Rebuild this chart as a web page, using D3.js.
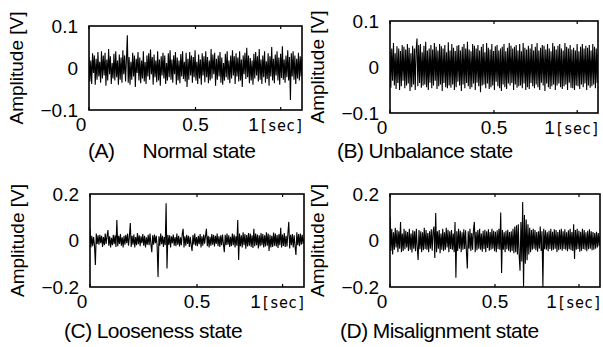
<!DOCTYPE html>
<html>
<head>
<meta charset="utf-8">
<script src="https://cdn.jsdelivr.net/npm/d3@7"></script>
<style>
  body { margin: 0; background: #fff; }
  text { font-family: "Liberation Sans", Arial, sans-serif; fill: #000; }
</style>
</head>
<body>
<svg id="chart" width="603" height="347"></svg>
<script>
// signal values [V] (about one sample per 0.9 px)
const normalState = [
  0.025,-0.032,0.018,-0.038,0.035,-0.012,0.03,-0.04,0.022,-0.028,
  0.038,-0.02,0.015,-0.035,0.04,-0.025,0.03,-0.018,0.036,-0.042,
  0.02,-0.03,0.045,-0.015,0.028,-0.038,0.012,-0.025,0.034,-0.03,
  0.04,-0.022,0.018,-0.04,0.032,-0.028,0.025,-0.035,0.042,-0.015,
  0.03,-0.032,0.02,0.078,-0.035,0.026,-0.04,0.015,-0.028,0.036,
  -0.02,0.03,-0.045,0.022,-0.012,0.038,-0.03,0.025,-0.036,0.018,
  -0.025,0.04,-0.032,0.014,-0.038,0.03,-0.02,0.035,-0.028,0.044,
  -0.015,0.026,-0.04,0.032,-0.022,0.018,-0.034,0.04,-0.03,0.02,
  -0.042,0.028,-0.018,0.036,-0.025,0.03,-0.038,0.012,-0.03,0.035,
  -0.022,0.042,-0.028,0.02,-0.035,0.03,-0.015,0.038,-0.04,0.025,
  -0.03,0.018,-0.036,0.033,-0.02,0.04,-0.026,0.015,-0.032,0.036,
  -0.045,0.022,-0.028,0.038,-0.018,0.03,-0.035,0.026,-0.022,0.042,
  -0.03,0.015,-0.038,0.032,-0.025,0.02,-0.04,0.035,-0.018,0.028,
  -0.034,0.04,-0.022,0.026,-0.036,0.018,-0.03,0.045,-0.025,0.032,
  -0.015,0.036,-0.042,0.022,-0.028,0.03,-0.02,0.038,-0.035,0.025,
  -0.04,0.012,-0.03,0.034,-0.022,0.04,-0.028,0.018,-0.036,0.03,
  -0.025,0.042,-0.018,0.028,-0.038,0.035,-0.02,0.025,-0.032,0.04,
  -0.03,0.02,-0.045,0.03,-0.015,0.036,-0.026,0.048,-0.022,0.03,
  -0.036,0.024,-0.03,0.018,-0.04,0.034,-0.025,0.038,-0.018,0.028,
  -0.032,0.045,-0.028,0.02,-0.038,0.03,-0.022,0.04,-0.035,0.016,
  -0.026,0.035,-0.042,0.028,-0.02,0.05,-0.03,0.022,-0.036,0.032,
  -0.018,0.04,-0.03,0.025,-0.04,0.034,-0.024,0.052,-0.028,0.02,
  -0.035,0.03,-0.022,0.042,-0.03,0.026,-0.076,0.035,-0.02,0.04,
  -0.028,0.03,-0.038,0.022,-0.025,0.036,-0.03,0.028,-0.02,0.025
];
const unbalanceState = [
  0.035,-0.045,0.04,-0.03,0.052,-0.04,0.03,-0.048,0.045,-0.035,
  0.04,-0.05,0.035,-0.042,0.048,-0.03,0.044,-0.046,0.038,-0.04,
  0.05,-0.036,0.042,-0.052,0.03,-0.044,0.046,-0.038,0.04,-0.05,
  0.036,0.062,-0.042,0.048,-0.035,0.05,-0.045,0.032,-0.04,0.046,
  -0.038,0.055,-0.044,0.036,-0.05,0.04,-0.034,0.048,-0.046,0.038,
  -0.04,0.052,-0.03,0.044,-0.048,0.036,-0.042,0.05,-0.038,0.045,
  -0.052,0.04,-0.035,0.048,-0.044,0.032,-0.046,0.054,-0.04,0.036,
  -0.045,0.05,-0.038,0.042,-0.05,0.035,-0.044,0.046,-0.032,0.048,
  -0.04,0.036,-0.052,0.044,-0.038,0.05,-0.046,0.04,-0.035,0.055,
  -0.042,0.038,-0.048,0.034,-0.044,0.05,-0.036,0.046,-0.05,0.04,
  -0.034,0.048,-0.042,0.036,-0.055,0.044,-0.04,0.05,-0.038,0.032,
  -0.046,0.052,-0.036,0.042,-0.048,0.038,-0.044,0.05,-0.04,0.035,
  -0.05,0.045,-0.032,0.048,-0.042,0.036,-0.046,0.04,-0.052,0.044,
  -0.038,0.05,-0.044,0.034,-0.048,0.042,-0.036,0.052,-0.04,0.046,
  -0.035,0.04,-0.05,0.044,-0.038,0.048,-0.045,0.036,-0.042,0.05,
  -0.04,0.034,-0.046,0.052,-0.036,0.042,-0.05,0.038,-0.044,0.046,
  -0.048,0.04,-0.035,0.05,-0.042,0.036,-0.046,0.044,-0.038,0.052,
  -0.044,0.036,-0.05,0.042,-0.034,0.048,-0.04,0.046,-0.052,0.038,
  -0.036,0.05,-0.044,0.04,-0.048,0.034,-0.042,0.052,-0.038,0.045,
  -0.05,0.038,-0.04,0.046,-0.036,0.05,-0.044,0.04,-0.048,0.036,
  -0.042,0.052,-0.038,0.044,-0.05,0.04,-0.034,0.048,-0.045,0.038,
  -0.046,0.042,-0.05,0.036,-0.04,0.05,-0.042,0.034,-0.048,0.044,
  -0.038,0.05,-0.044,0.04,-0.036,0.046,-0.05,0.042,-0.04,0.048,
  -0.045,0.036,-0.042,0.05,-0.038,0.044,-0.046,0.04,-0.035,0.03
];
const loosenessState = [
  0.05,-0.03,0.02,-0.025,0.015,-0.02,-0.105,0.03,-0.015,0.022,
  -0.018,0.025,-0.012,0.02,-0.028,0.015,-0.02,0.03,-0.015,0.018,
  0.045,-0.022,0.018,-0.03,0.012,-0.02,0.025,-0.016,0.022,-0.028,
  0.088,-0.025,0.02,-0.015,0.028,-0.022,0.014,-0.03,0.02,-0.018,
  0.025,-0.012,0.03,-0.022,0.016,0.075,-0.028,0.02,-0.018,0.026,
  -0.03,0.015,-0.02,0.032,-0.016,0.022,-0.025,0.018,-0.012,0.028,
  -0.022,0.02,-0.03,0.014,-0.018,0.025,-0.02,0.03,-0.015,-0.05,
  0.022,-0.018,0.026,-0.012,0.02,-0.025,-0.157,0.018,-0.022,0.03,
  -0.016,0.02,-0.028,0.015,-0.02,0.16,-0.12,0.025,-0.018,0.022,
  -0.03,0.018,-0.012,0.026,-0.022,0.015,-0.025,0.03,-0.018,0.02,
  -0.026,0.014,-0.02,0.028,0.05,-0.03,0.018,-0.022,0.025,-0.015,
  0.02,-0.028,0.016,-0.02,-0.045,0.024,-0.018,0.03,-0.022,0.015,
  -0.025,0.02,-0.016,0.028,-0.03,0.018,-0.022,0.026,-0.014,0.02,
  0.05,-0.025,0.02,-0.03,0.016,-0.022,0.028,-0.018,0.024,-0.026,
  0.02,-0.015,0.03,-0.024,0.018,-0.028,0.022,-0.02,0.026,-0.016,
  -0.05,0.025,-0.02,0.03,-0.018,0.022,-0.028,0.016,-0.024,0.03,
  -0.02,0.026,-0.03,0.018,-0.022,0.088,-0.084,0.03,-0.025,0.022,
  -0.03,0.035,-0.02,0.028,-0.035,0.024,-0.026,0.032,-0.022,0.03,
  -0.028,0.022,-0.032,0.05,-0.025,0.03,-0.02,0.026,-0.034,0.022,
  -0.025,0.032,-0.02,0.028,-0.03,0.022,-0.026,0.035,-0.022,0.03,
  -0.045,0.025,-0.03,0.02,-0.028,0.034,-0.022,0.03,-0.026,0.024,
  -0.032,0.028,-0.02,0.055,-0.03,0.026,-0.024,0.032,-0.028,0.02,
  -0.026,0.03,0.08,-0.034,0.025,-0.02,0.028,-0.03,0.022,-0.025,
  -0.062,0.035,-0.02,0.028,-0.025,0.03,-0.018,0.024,-0.015,0.01
];
const misalignmentState = [
  0.1,-0.045,0.05,-0.06,0.035,-0.04,0.055,-0.03,0.045,-0.05,
  0.04,-0.035,0.08,-0.05,0.03,-0.045,0.05,-0.038,0.042,-0.03,
  0.036,-0.045,0.05,-0.04,0.03,-0.052,0.044,-0.035,0.04,-0.046,
  0.05,-0.03,-0.084,0.045,-0.038,0.04,-0.05,0.035,-0.042,0.055,
  -0.036,0.045,-0.04,0.032,-0.05,0.04,-0.035,0.048,-0.044,0.038,
  0.06,-0.075,0.118,-0.05,0.04,-0.035,0.045,-0.055,0.03,-0.04,
  0.05,-0.045,0.035,-0.04,0.055,-0.03,0.046,-0.05,0.04,-0.036,
  0.045,-0.04,0.03,-0.05,0.08,-0.16,0.04,-0.045,0.05,-0.035,
  0.042,-0.05,0.035,-0.04,0.048,-0.036,0.044,-0.05,-0.12,0.04,
  -0.035,0.05,-0.045,0.032,-0.04,0.046,0.08,-0.05,0.038,-0.042,
  0.045,-0.035,0.05,-0.04,0.03,-0.048,0.042,-0.036,0.046,-0.05,
  0.04,-0.032,0.048,-0.044,0.036,-0.04,0.05,-0.035,0.042,-0.046,
  0.038,-0.05,0.044,-0.036,0.05,-0.04,0.12,-0.14,0.045,-0.04,
  0.035,-0.05,0.042,-0.038,0.046,-0.044,0.036,-0.05,0.04,-0.045,
  0.05,-0.055,0.06,-0.05,0.065,-0.06,0.07,-0.065,-0.13,0.08,
  -0.09,0.166,-0.2,0.11,-0.1,0.09,-0.085,0.07,-0.06,0.055,
  -0.05,0.045,-0.04,0.05,-0.035,0.045,-0.042,0.036,-0.048,0.04,
  -0.035,0.06,-0.045,0.04,-0.2,0.05,-0.038,0.044,-0.04,0.035,
  -0.046,0.042,-0.036,0.05,-0.044,0.038,-0.04,0.048,-0.035,0.045,
  -0.05,0.036,-0.042,0.046,-0.038,0.05,-0.044,0.04,-0.036,0.048,
  -0.04,0.035,-0.046,0.044,-0.038,0.05,-0.042,0.036,-0.045,0.07,
  -0.08,0.045,-0.04,0.05,-0.036,0.042,-0.048,0.038,-0.044,0.05,
  -0.036,0.045,-0.04,0.035,-0.046,0.042,-0.038,0.048,-0.035,0.04,
  -0.042,0.036,-0.04,0.032,-0.035,0.038,-0.03,0.032,-0.025,0.02
];

const xTicks = [0, 0.5, 0.9];
const xTickLabels = ["0", "0.5", "1"];
const yLimits = [0.1, 0.1, 0.2, 0.2];
const captionTags = ["(A)", "(B)", "(C)", "(D)"];
const captionTexts = ["Normal state", "Unbalance state", "Looseness state", "Misalignment state"];
const yLabel = "Amplitude [V]";

// layout of each axes box (pixels)
const boxes = [
  {l: 89,  r: 302, t: 26,  b: 110, capX: 88,  capY: 158, gap: 28},
  {l: 390, r: 598, t: 21,  b: 113, capX: 337, capY: 158, gap: 5},
  {l: 90,  r: 304, t: 194, b: 287, capX: 64,  capY: 338, gap: 5},
  {l: 390, r: 600, t: 194, b: 287, capX: 340, capY: 338, gap: 5}
];
const series = [normalState, unbalanceState, loosenessState, misalignmentState];

const svg = d3.select("#chart");

boxes.forEach((bx, k) => {
  const vals = series[k];
  const lim = yLimits[k];
  const x = d3.scaleLinear().domain([0, 1]).range([bx.l, bx.r]);
  const y = d3.scaleLinear().domain([-lim, lim]).range([bx.b, bx.t]);
  const g = svg.append("g");

  const line = d3.line()
    .x((d, i) => x(i / (vals.length - 1)))
    .y(d => y(d));

  const clipId = "clip" + k;
  svg.append("clipPath").attr("id", clipId)
    .append("rect").attr("x", bx.l).attr("y", bx.t)
    .attr("width", bx.r - bx.l).attr("height", bx.b - bx.t);

  g.append("path")
    .datum(vals)
    .attr("clip-path", "url(#" + clipId + ")")
    .attr("fill", "none")
    .attr("stroke", "#000")
    .attr("stroke-width", 1.1)
    .attr("d", line);

  // inner ticks (top and bottom)
  const tk = g.append("g").attr("stroke", "#000").attr("stroke-width", 1.2);
  xTicks.forEach(v => {
    tk.append("line").attr("x1", x(v)).attr("x2", x(v)).attr("y1", bx.b).attr("y2", bx.b - 3);
    tk.append("line").attr("x1", x(v)).attr("x2", x(v)).attr("y1", bx.t).attr("y2", bx.t + 3);
  });

  g.append("rect")
    .attr("x", bx.l).attr("y", bx.t)
    .attr("width", bx.r - bx.l).attr("height", bx.b - bx.t)
    .attr("fill", "none").attr("stroke", "#000").attr("stroke-width", 1.6);

  // y tick labels
  [lim, 0, -lim].forEach(v => {
    g.append("text")
      .attr("x", bx.l - 11).attr("y", y(v)).attr("dy", "0.36em")
      .attr("text-anchor", "end").attr("font-size", 19)
      .text(v === 0 ? "0" : (v < 0 ? "\u2212" + Math.abs(v) : String(v)));
  });

  // x tick labels
  g.append("text").attr("x", x(0) - 8).attr("y", bx.b + 21)
    .attr("text-anchor", "middle").attr("font-size", 19).text(xTickLabels[0]);
  g.append("text").attr("x", x(0.5)).attr("y", bx.b + 21)
    .attr("text-anchor", "middle").attr("font-size", 19).text(xTickLabels[1]);
  const last = g.append("text").attr("x", x(1) + 2).attr("y", bx.b + 21)
    .attr("text-anchor", "end").attr("font-size", 19);
  last.append("tspan").text(xTickLabels[2]);
  last.append("tspan").attr("font-family", "DejaVu Sans Mono").attr("font-size", 15).text("[sec]");

  // y axis label
  g.append("text")
    .attr("transform", `translate(${bx.l - 66},${(bx.t + bx.b) / 2}) rotate(-90)`)
    .attr("text-anchor", "middle").attr("font-size", 19)
    .text(yLabel);

  // caption
  const cap = svg.append("text").attr("x", bx.capX).attr("y", bx.capY)
    .attr("font-size", 21).attr("letter-spacing", -0.5);
  cap.append("tspan").text(captionTags[k]);
  cap.append("tspan").attr("dx", bx.gap).text(captionTexts[k]);
});
</script>
</body>
</html>
